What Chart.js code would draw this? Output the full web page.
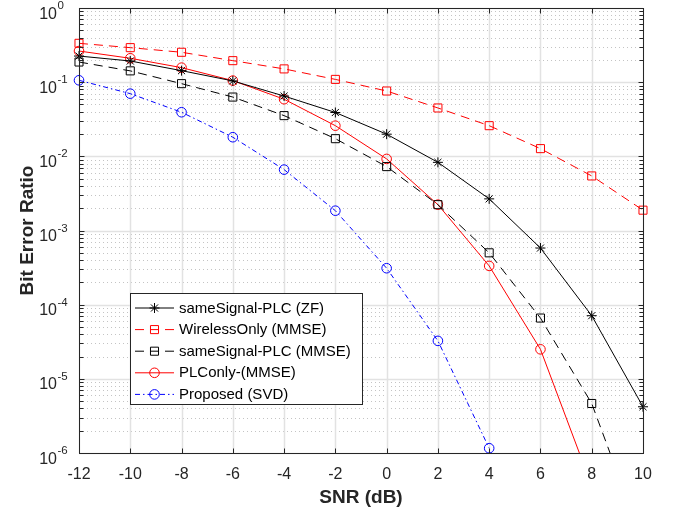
<!DOCTYPE html>
<html>
<head>
<meta charset="utf-8">
<script src="https://cdn.jsdelivr.net/npm/chart.js@4/dist/chart.umd.min.js"></script>
<style>
  html, body { margin: 0; padding: 0; background: #fff; }
  #wrap { width: 681px; height: 514px; position: relative; }
</style>
</head>
<body>
<div id="wrap"><canvas id="ber"></canvas></div>
<script>
// SNR values (dB)
const snr = [-12, -10, -8, -6, -4, -2, 0, 2, 4, 6, 8, 10];

// BER values
const zfSame = [0.225, 0.193, 0.143, 0.104, 0.065, 0.039, 0.0199, 0.0083, 0.00267, 5.8e-4, 7.1e-5, 4.2e-6];
const wirelessOnly = [0.334, 0.292, 0.253, 0.195, 0.151, 0.109, 0.076, 0.0449, 0.0259, 0.0127, 0.00544, 0.00188];
const mmseSame = [0.187, 0.142, 0.0955, 0.063, 0.0354, 0.0173, 0.00727, 0.00223, 5.0e-4, 6.6e-5, 4.65e-6, 6.3e-8];
const plcOnly = [0.263, 0.21, 0.157, 0.105, 0.0589, 0.0259, 0.00923, 0.00223, 3.33e-4, 2.5e-5, 3.6e-7, null];
const proposed = [0.106, 0.070, 0.0393, 0.0181, 0.00662, 0.00185, 3.1e-4, 3.25e-5, 1.16e-6, null, null, null];

// tick labels
const xTicks = [-12, -10, -8, -6, -4, -2, 0, 2, 4, 6, 8, 10];
const yTickExp = [0, -1, -2, -3, -4, -5, -6];

const FONT = "'Liberation Sans', Arial, Helvetica, sans-serif";
const AXIS_COLOR = '#262626';

function series(label, data, color, dash, style, radius) {
  return {
    label, data,
    borderColor: color,
    borderWidth: 1,
    borderDash: dash,
    pointStyle: style,
    pointRadius: radius,
    pointHoverRadius: radius,
    pointBorderColor: color,
    pointBackgroundColor: 'rgba(0,0,0,0)',
    pointBorderWidth: 1,
    tension: 0,
    fill: false,
    spanGaps: false,
    clip: { left: 12, right: 12, top: 12, bottom: 1 },
  };
}

function line(ctx, x1, y1, x2, y2) {
  ctx.beginPath();
  ctx.moveTo(x1, y1);
  ctx.lineTo(x2, y2);
  ctx.stroke();
}

// MATLAB-like grid, box and inward ticks
const matlabAxes = {
  id: 'matlabAxes',
  beforeDatasetsDraw(chart) {
    const { ctx, chartArea: a, scales: { x, y } } = chart;
    ctx.save();
    // minor grid (dotted)
    ctx.strokeStyle = '#c4c4c4';
    ctx.lineWidth = 1;
    ctx.setLineDash([1, 3]);
    for (let e = -6; e < 0; e++) {
      for (let m = 2; m <= 9; m++) {
        const py = Math.round(y.getPixelForValue(m * Math.pow(10, e))) + 0.5;
        line(ctx, a.left, py, a.right, py);
      }
    }
    // major grid
    ctx.setLineDash([]);
    ctx.strokeStyle = '#e2e2e2';
    ctx.lineWidth = 1.5;
    xTicks.forEach(v => {
      const px = Math.round(x.getPixelForValue(v)) + 0.5;
      line(ctx, px, a.top, px, a.bottom);
    });
    yTickExp.forEach(e => {
      const py = Math.round(y.getPixelForValue(Math.pow(10, e))) + 0.5;
      line(ctx, a.left, py, a.right, py);
    });
    ctx.restore();
  },
  afterDatasetsDraw(chart) {
    const { ctx, chartArea: a, scales: { x, y } } = chart;
    const L = Math.round(a.left) + 0.5, R = Math.round(a.right) + 0.5;
    const T = Math.round(a.top) + 0.5, B = Math.round(a.bottom) + 0.5;
    ctx.save();
    ctx.strokeStyle = AXIS_COLOR;
    ctx.lineWidth = 1;
    ctx.strokeRect(L, T, R - L, B - T);
    const tl = 5;
    xTicks.forEach(v => {
      const px = Math.round(x.getPixelForValue(v)) + 0.5;
      line(ctx, px, B, px, B - tl);
      line(ctx, px, T, px, T + tl);
    });
    for (let e = -6; e <= 0; e++) {
      for (let m = 1; m <= 9; m++) {
        if (e === 0 && m > 1) break;
        const py = Math.round(y.getPixelForValue(m * Math.pow(10, e))) + 0.5;
        const len = m === 1 ? tl : 4;
        line(ctx, L, py, L + len, py);
        line(ctx, R, py, R - len, py);
      }
    }
    ctx.restore();
  },
  afterDraw(chart) {
    const { ctx, scales: { y } } = chart;
    ctx.save();
    ctx.fillStyle = AXIS_COLOR;
    ctx.textBaseline = 'alphabetic';
    yTickExp.forEach(e => {
      const py = y.getPixelForValue(Math.pow(10, e));
      ctx.font = '16px ' + FONT;
      ctx.textAlign = 'right';
      ctx.fillText('10', 57, py + 10.5);
      ctx.font = '11.5px ' + FONT;
      ctx.textAlign = 'left';
      ctx.fillText(String(e), 57.5, py + 1);
    });

    // legend
    const bx = 130.5, by = 293.5, bw = 232, bh = 111;
    ctx.fillStyle = '#fff';
    ctx.fillRect(bx, by, bw, bh);
    ctx.strokeStyle = AXIS_COLOR;
    ctx.lineWidth = 1;
    ctx.strokeRect(bx, by, bw, bh);
    chart.data.datasets.forEach((ds, i) => {
      const cy = 308 + i * 21.6;
      ctx.save();
      ctx.strokeStyle = ds.borderColor;
      ctx.lineWidth = ds.borderWidth;
      ctx.setLineDash(ds.borderDash || []);
      line(ctx, 135, cy, 174, cy);
      ctx.setLineDash([]);
      ctx.fillStyle = 'rgba(0,0,0,0)';
      Chart.helpers.drawPoint(ctx, {
        pointStyle: ds.pointStyle, radius: ds.pointRadius, rotation: 0, borderWidth: 1,
      }, 154.5, cy);
      ctx.restore();
      ctx.fillStyle = '#000';
      ctx.font = '15px ' + FONT;
      ctx.textAlign = 'left';
      ctx.textBaseline = 'middle';
      ctx.fillText(ds.label, 179, cy + 0.5);
    });
    ctx.restore();
  },
};

new Chart(document.getElementById('ber'), {
  type: 'line',
  data: {
    labels: snr,
    datasets: [
      series('sameSignal-PLC (ZF)', zfSame, '#000000', [], 'star', 5),
      series('WirelessOnly (MMSE)', wirelessOnly, '#ff0000', [9, 6], 'rect', 5.7),
      series('sameSignal-PLC (MMSE)', mmseSame, '#000000', [9, 6], 'rect', 5.7),
      series('PLConly-(MMSE)', plcOnly, '#ff0000', [], 'circle', 4.8),
      series('Proposed (SVD)', proposed, '#0000ff', [5, 3, 1.5, 3], 'circle', 4.8),
    ].map(d => ({ ...d, data: d.data.map((v, i) => ({ x: snr[i], y: v })) })),
  },
  options: {
    responsive: true,
    maintainAspectRatio: false,
    animation: false,
    devicePixelRatio: 1,
    layout: { padding: { top: 8, right: 38, left: 0, bottom: 0 } },
    plugins: { legend: { display: false }, tooltip: { enabled: false } },
    events: [],
    scales: {
      x: {
        type: 'linear',
        min: -12,
        max: 10,
        afterBuildTicks: s => { s.ticks = xTicks.map(v => ({ value: v })); },
        grid: { display: false },
        border: { display: false },
        ticks: { color: AXIS_COLOR, font: { family: FONT, size: 16 }, padding: 4, maxRotation: 0 },
        title: {
          display: true, text: 'SNR (dB)', color: AXIS_COLOR,
          font: { family: FONT, size: 19, weight: 'bold' }, padding: { top: 0, bottom: 5 },
        },
        afterFit: s => { s.height = 61; },
      },
      y: {
        type: 'logarithmic',
        min: 1e-6,
        max: 1,
        grid: { display: false },
        border: { display: false },
        ticks: { display: false },
        title: {
          display: true, text: 'Bit Error Ratio', color: AXIS_COLOR,
          font: { family: FONT, size: 19, weight: 'bold' }, padding: { top: 16, bottom: 0 },
        },
        afterFit: s => { s.width = 79; },
      },
    },
  },
  plugins: [matlabAxes],
});
</script>
</body>
</html>
